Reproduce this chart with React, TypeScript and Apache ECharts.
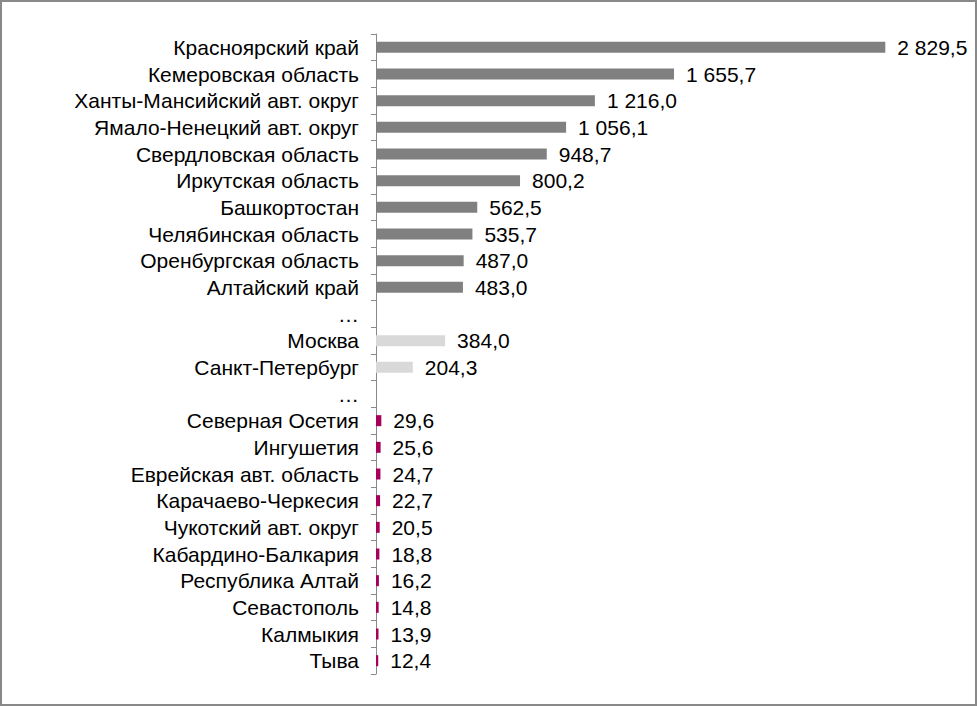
import React, { useEffect, useRef } from "react";
import * as echarts from "echarts";

const categories = [
  "Красноярский край",
  "Кемеровская область",
  "Ханты-Мансийский авт. округ",
  "Ямало-Ненецкий авт. округ",
  "Свердловская область",
  "Иркутская область",
  "Башкортостан",
  "Челябинская область",
  "Оренбургская область",
  "Алтайский край",
  "…",
  "Москва",
  "Санкт-Петербург",
  "…",
  "Северная Осетия",
  "Ингушетия",
  "Еврейская авт. область",
  "Карачаево-Черкесия",
  "Чукотский авт. округ",
  "Кабардино-Балкария",
  "Республика Алтай",
  "Севастополь",
  "Калмыкия",
  "Тыва",
];

const values: (number | null)[] = [
  2829.5, 1655.7, 1216.0, 1056.1, 948.7, 800.2, 562.5, 535.7, 487.0, 483.0,
  null,
  384.0, 204.3,
  null,
  29.6, 25.6, 24.7, 22.7, 20.5, 18.8, 16.2, 14.8, 13.9, 12.4,
];

// group of each row: top, capitals, bottom, gap
const groups = [
  "top", "top", "top", "top", "top", "top", "top", "top", "top", "top",
  "gap",
  "capital", "capital",
  "gap",
  "bottom", "bottom", "bottom", "bottom", "bottom", "bottom", "bottom", "bottom", "bottom", "bottom",
];

const groupColors: Record<string, string> = {
  top: "#808080",
  capital: "#d9d9d9",
  bottom: "#a8005a",
  gap: "#808080",
};

function fmt(v: number): string {
  const [i, d] = v.toFixed(1).split(".");
  const withSp = i.replace(/\B(?=(\d{3})+(?!\d))/g, " ");
  return withSp + "," + d;
}

export default function App() {
  const ref = useRef<HTMLDivElement>(null);
  useEffect(() => {
    document.body.style.margin = "0";
    const chart = echarts.init(ref.current!, null, { renderer: "svg" });
    const font = "Liberation Sans, Arial, sans-serif";
    chart.setOption({
      animation: false,
      backgroundColor: "#ffffff",
      graphic: [
        {
          type: "rect",
          shape: { x: 1, y: 1, width: 975, height: 704 },
          style: { fill: "none", stroke: "#898989", lineWidth: 2 },
          silent: true,
        },
      ],
      grid: { left: 376, top: 34, width: 540, height: 640 },
      xAxis: {
        type: "value",
        min: 0,
        max: 3000,
        show: false,
        splitLine: { show: false },
      },
      yAxis: {
        type: "category",
        inverse: true,
        data: categories,
        axisLine: { show: true, lineStyle: { color: "#898989", width: 1 } },
        axisTick: { show: true, length: 5, interval: 0, lineStyle: { color: "#898989" } },
        axisLabel: {
          interval: 0,
          margin: 17,
          color: "#000000",
          fontSize: 21,
          fontFamily: font,
        },
      },
      series: [
        {
          type: "bar",
          barWidth: 11,
          data: values.map((v, i) => ({
            value: v === null ? "-" : v,
            itemStyle: { color: groupColors[groups[i]] },
          })),
          label: {
            show: true,
            position: "right",
            distance: 12,
            color: "#000000",
            fontSize: 21,
            fontFamily: font,
            formatter: (p: any) => (typeof p.value === "number" ? fmt(p.value) : ""),
          },
        },
      ],
    });
    return () => chart.dispose();
  }, []);
  return (
    <div
      ref={ref}
      style={{ position: "absolute", left: 0, top: 0, width: 977, height: 706 }}
    />
  );
}
